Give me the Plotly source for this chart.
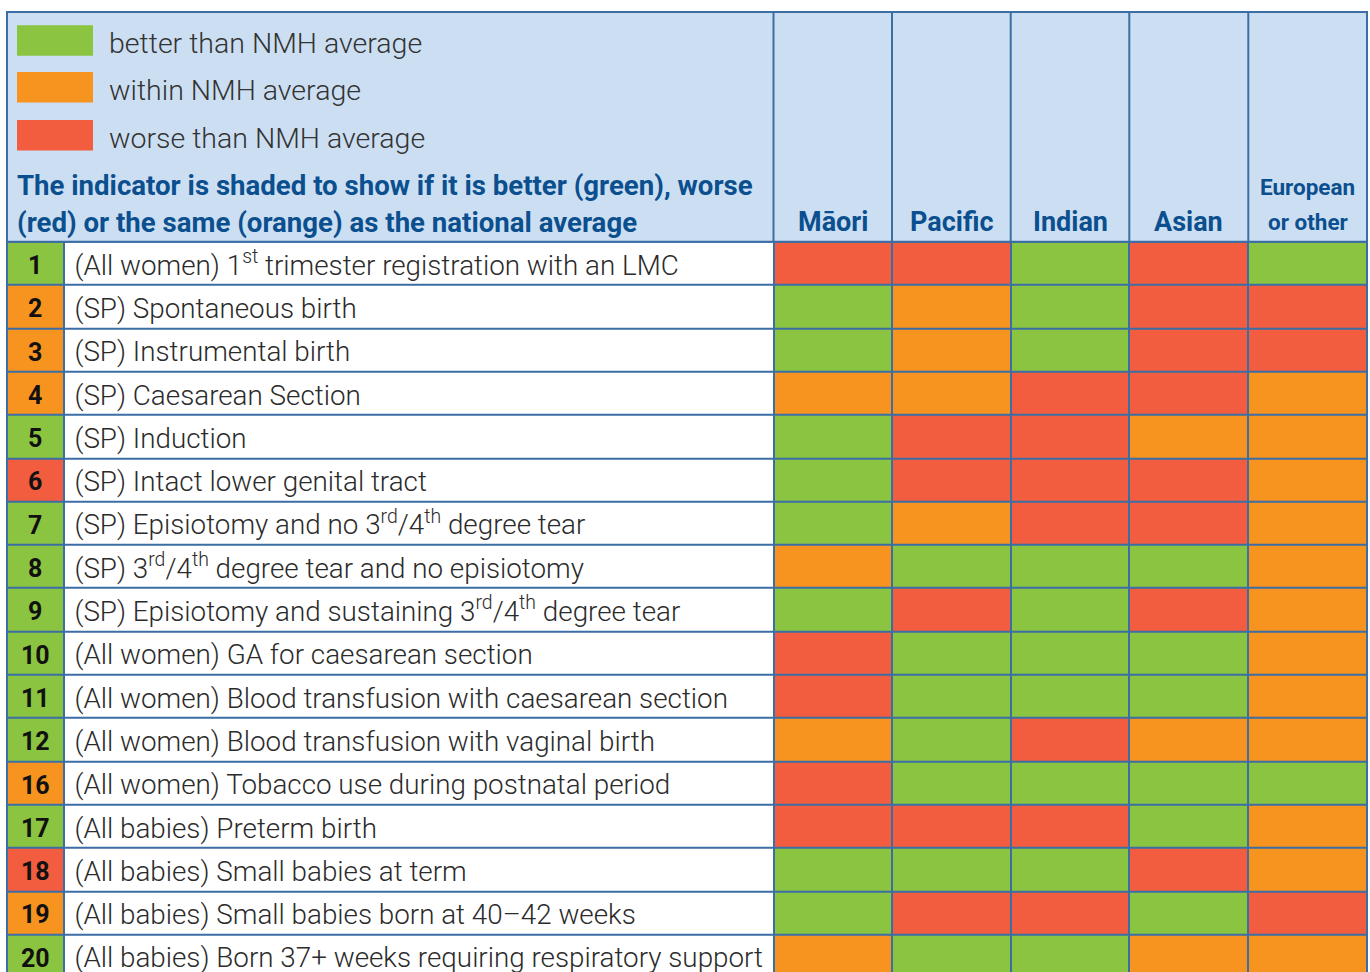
import plotly.graph_objects as go

# ---------------- data ----------------
ids = ["1", "2", "3", "4", "5", "6", "7", "8", "9", "10", "11", "12",
       "16", "17", "18", "19", "20"]
indicators = [
    "(All women) 1<sup>st</sup> trimester registration with an LMC",
    "(SP) Spontaneous birth",
    "(SP) Instrumental birth",
    "(SP) Caesarean Section",
    "(SP) Induction",
    "(SP) Intact lower genital tract",
    "(SP) Episiotomy and no 3<sup>rd</sup>/4<sup>th</sup> degree tear",
    "(SP) 3<sup>rd</sup>/4<sup>th</sup> degree tear and no episiotomy",
    "(SP) Episiotomy and sustaining 3<sup>rd</sup>/4<sup>th</sup> degree tear",
    "(All women) GA for caesarean section",
    "(All women) Blood transfusion with caesarean section",
    "(All women) Blood transfusion with vaginal birth",
    "(All women) Tobacco use during postnatal period",
    "(All babies) Preterm birth",
    "(All babies) Small babies at term",
    "(All babies) Small babies born at 40–42 weeks",
    "(All babies) Born 37+ weeks requiring respiratory support",
]
groups = [["Māori"], ["Pacific"], ["Indian"], ["Asian"], ["European", "or other"]]
# G = better, O = within, R = worse than NMH average
overall  = ["G", "O", "O", "O", "G", "R", "G", "G", "G", "G", "G", "G", "O", "G", "R", "O", "G"]
maori    = ["R", "G", "G", "O", "G", "G", "G", "O", "G", "R", "R", "O", "R", "R", "G", "G", "O"]
pacific  = ["R", "O", "O", "O", "R", "R", "O", "G", "R", "G", "G", "G", "G", "R", "G", "R", "G"]
indian   = ["G", "G", "G", "R", "R", "R", "R", "G", "G", "G", "G", "R", "G", "R", "G", "R", "G"]
asian    = ["R", "R", "R", "R", "O", "R", "R", "G", "R", "G", "G", "O", "G", "G", "R", "G", "O"]
european = ["G", "R", "R", "O", "O", "O", "O", "O", "O", "O", "O", "O", "G", "O", "O", "R", "O"]
legend_labels = ["better than NMH average", "within NMH average", "worse than NMH average"]
note_lines = ["The indicator is shaded to show if it is better (green), worse",
              "(red) or the same (orange) as the national average"]

# ---------------- styles / layout constants ----------------
W, H = 1370, 972
GREEN, ORANGE, RED, WHITE = "#8BC441", "#F7941F", "#F15D3E", "#FFFFFF"
HEAD_BG = "#CCDFF2"
BORDER = "#3C6EA6"
HEAD_TXT = "#0B4F8F"
BODY_TXT = "#2B2B2B"
FONT = "Roboto"

col_edges = [7, 63.5, 773.5, 892, 1010.7, 1129.3, 1248.3, 1367]
TABLE_TOP = 12
BODY_TOP = 241.7
ROW_H = 43.3
TEXT_DY = 0.1  # visual baseline nudge (in row units)

code = {"G": 0, "O": 1, "R": 2, "W": 3}
n = len(ids)
z = []
for i in range(n):
    z.append([code[overall[i]], code["W"], code[maori[i]], code[pacific[i]],
              code[indian[i]], code[asian[i]], code[european[i]]])

colorscale = [[0, GREEN], [0.25, GREEN], [0.25, ORANGE], [0.5, ORANGE],
              [0.5, RED], [0.75, RED], [0.75, WHITE], [1, WHITE]]

rows = list(range(n))
text_rows = [r + TEXT_DY for r in rows]
y_top = -0.5 - BODY_TOP / ROW_H
y_bot = -0.5 + (H - BODY_TOP) / ROW_H


def py2paper(py):
    return 1 - py / H


fig = go.Figure()
fig.add_trace(go.Heatmap(
    z=z, x=col_edges, y=rows, colorscale=colorscale, zmin=0, zmax=3,
    showscale=False, xgap=2, ygap=2, hoverinfo="skip"))

# numbers
fig.add_trace(go.Scatter(
    x=[(col_edges[0] + col_edges[1]) / 2] * n, y=text_rows, text=[f"<b>{t}</b>" for t in ids],
    mode="text", textposition="middle center",
    textfont=dict(family=FONT, size=25, color="#111111"), hoverinfo="skip"))
# labels
fig.add_trace(go.Scatter(
    x=[col_edges[1] + 11] * n, y=text_rows, text=indicators,
    mode="text", textposition="middle right",
    textfont=dict(family=FONT, size=27.8, color=BODY_TXT, weight=300), hoverinfo="skip"))

shapes = []
# body border background (shows through heatmap gaps)
shapes.append(dict(type="rect", xref="x", yref="y", x0=col_edges[0] - 1, x1=col_edges[-1] + 1,
                   y0=-0.5 - 0.03, y1=y_bot + 1, fillcolor=BORDER, line=dict(width=0),
                   layer="below"))
# header box
shapes.append(dict(type="rect", xref="x", yref="paper", x0=col_edges[0], x1=col_edges[-1],
                   y0=py2paper(BODY_TOP), y1=py2paper(TABLE_TOP), fillcolor=HEAD_BG,
                   line=dict(color=BORDER, width=2), layer="above"))
for xe in col_edges[2:-1]:
    shapes.append(dict(type="line", xref="x", yref="paper", x0=xe, x1=xe,
                       y0=py2paper(BODY_TOP), y1=py2paper(TABLE_TOP),
                       line=dict(color=BORDER, width=2)))
# legend swatches
sw_centers = [40.5, 87.2, 135.3]
for c, yc in zip([GREEN, ORANGE, RED], sw_centers):
    shapes.append(dict(type="rect", xref="x", yref="paper", x0=17, x1=93,
                       y0=py2paper(yc + 15.3), y1=py2paper(yc - 15.3),
                       fillcolor=c, line=dict(width=0)))

annotations = []
for lab, yc in zip(legend_labels, [43.5, 90.5, 138.5]):
    annotations.append(dict(x=107, y=py2paper(yc), xref="x", yref="paper", text=lab,
                            showarrow=False, xanchor="left", yanchor="middle",
                            font=dict(family=FONT, size=28.5, color="#333333", weight=300)))
for txt, yc in zip(note_lines, [186, 222]):
    annotations.append(dict(x=15, y=py2paper(yc), xref="x", yref="paper", text=f"<b>{txt}</b>",
                            showarrow=False, xanchor="left", yanchor="middle",
                            font=dict(family=FONT, size=27.6, color=HEAD_TXT)))
for k, g in enumerate(groups):
    xc = (col_edges[k + 2] + col_edges[k + 3]) / 2
    if len(g) == 2:
        for line, yc in zip(g, [187, 222]):
            annotations.append(dict(x=xc, y=py2paper(yc), xref="x", yref="paper",
                                    text=f"<b>{line}</b>", showarrow=False,
                                    xanchor="center", yanchor="middle",
                                    font=dict(family=FONT, size=22.5, color=HEAD_TXT)))
    else:
        annotations.append(dict(x=xc, y=py2paper(222), xref="x", yref="paper", text=f"<b>{g[0]}</b>",
                                showarrow=False, xanchor="center", yanchor="middle",
                                font=dict(family=FONT, size=27, color=HEAD_TXT)))

fig.update_layout(
    width=W, height=H, margin=dict(l=0, r=0, t=0, b=0),
    paper_bgcolor="white", plot_bgcolor="white", showlegend=False,
    xaxis=dict(range=[0, W], visible=False, fixedrange=True),
    yaxis=dict(range=[y_bot, y_top], visible=False, fixedrange=True),
    shapes=shapes, annotations=annotations, hovermode=False,
)
fig.write_html("out.html", config={"displayModeBar": False},
               post_script="document.body.style.margin='0';document.body.style.overflow='hidden';")
